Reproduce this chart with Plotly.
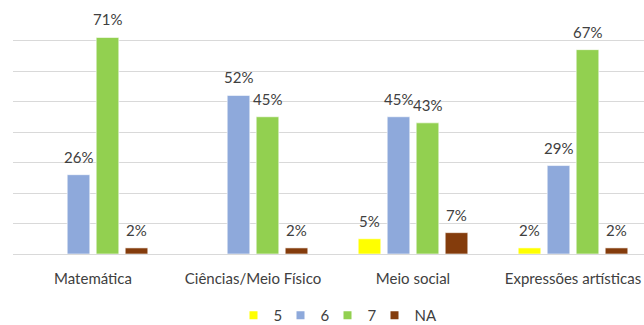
import plotly.graph_objects as go

categories = ["Matemática", "Ciências/Meio Físico", "Meio social", "Expressões artísticas"]
series_names = ["5", "6", "7", "NA"]
v5 = [None, None, 5, 2]
v6 = [26, 52, 45, 29]
v7 = [71, 45, 43, 67]
vna = [2, 2, 7, 2]
colors = ["#FFFF00", "#8EA9DB", "#92D050", "#843C0C"]

series_values = [v5, v6, v7, vna]
FONT = "Lato"
fig = go.Figure()

for name, vals, col in zip(series_names, series_values, colors):
    fig.add_trace(go.Bar(
        x=categories, y=[None if v is None else v / 100 for v in vals],
        name=name, marker=dict(color=col, line=dict(color="white", width=0.6)),
        showlegend=False, hoverinfo="skip"))

# legend entries with small square markers
for name, col in zip(series_names, colors):
    fig.add_trace(go.Scatter(x=[None], y=[None], mode="markers", name=name,
                             marker=dict(symbol="square", size=8, color=col)))
# blank trailing entry so the last legend label is not clipped
fig.add_trace(go.Scatter(x=[None], y=[None], mode="markers", name="",
                         marker=dict(size=1, color="rgba(0,0,0,0)"), hoverinfo="skip"))

pitch = 29.0
annotations = []
for i, vals in enumerate(series_values):
    for cat, v in zip(categories, vals):
        if v is None:
            continue
        annotations.append(dict(
            x=cat, y=v / 100, xref="x", yref="y", text=f"{v}%",
            showarrow=False, xanchor="center", yanchor="bottom",
            xshift=(i - 1.5) * pitch, yshift=7,
            font=dict(family=FONT, size=15, color="#404040")))

fig.update_layout(
    width=666, height=325,
    margin=dict(l=13, r=13, t=9.5, b=70.5, autoexpand=False),
    paper_bgcolor="white", plot_bgcolor="white",
    barmode="group", bargap=0.275, bargroupgap=0.22,
    annotations=annotations,
    font=dict(family=FONT, size=15, color="#404040"),
    legend=dict(orientation="h", x=0.5 + 18 / 640, xanchor="center", y=-0.252, yanchor="middle",
                font=dict(family=FONT, size=15, color="#404040"),
                entrywidth=2, itemwidth=30),
    showlegend=True,
)
fig.update_yaxes(range=[0, 0.8], dtick=0.1, showticklabels=False,
                 gridcolor="#D9D9D9", gridwidth=1, zeroline=True,
                 zerolinecolor="#D9D9D9", zerolinewidth=1, fixedrange=True)
fig.update_xaxes(showgrid=False, ticks="", showline=False, automargin=False,
                 tickfont=dict(family=FONT, size=15, color="#404040"),
                 ticklabelstandoff=14)

fig.write_html("out.html")
